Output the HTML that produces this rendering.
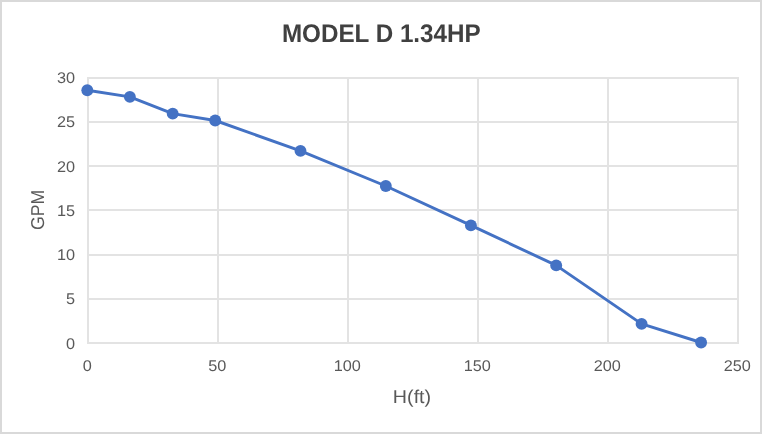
<!DOCTYPE html>
<html>
<head>
<meta charset="utf-8">
<title>MODEL D 1.34HP</title>
<style>
html,body{margin:0;padding:0;background:#fff;}
body{width:762px;height:434px;overflow:hidden;}
svg{display:block;}
text{text-rendering:geometricPrecision;font-family:"Liberation Sans",sans-serif;fill:#595959;}
.tick{font-size:15.5px;}
.axt{font-size:18.6px;}
.ttl{font-size:25.6px;font-weight:bold;fill:#404040;}
.g{stroke:#e3e3e3;stroke-width:2;fill:none;shape-rendering:crispEdges;}
</style>
</head>
<body>
<svg width="762" height="434" viewBox="0 0 762 434">
<rect x="0" y="0" width="762" height="434" fill="#ffffff"/>
<rect x="1" y="1" width="760" height="432" fill="none" stroke="#d9d9d9" stroke-width="2"/>
<!-- horizontal gridlines -->
<g class="g">
<line x1="87" y1="78" x2="739" y2="78"/>
<line x1="87" y1="122" x2="739" y2="122"/>
<line x1="87" y1="166" x2="739" y2="166"/>
<line x1="87" y1="210" x2="739" y2="210"/>
<line x1="87" y1="255" x2="739" y2="255"/>
<line x1="87" y1="299" x2="739" y2="299"/>
<line x1="87" y1="343" x2="739" y2="343"/>
<!-- vertical gridlines -->
<line x1="88" y1="77" x2="88" y2="344"/>
<line x1="218" y1="77" x2="218" y2="344"/>
<line x1="348" y1="77" x2="348" y2="344"/>
<line x1="478" y1="77" x2="478" y2="344"/>
<line x1="608" y1="77" x2="608" y2="344"/>
<line x1="738" y1="77" x2="738" y2="344"/>
</g>
<!-- series -->
<polyline fill="none" stroke="#4472c4" stroke-width="2.95" stroke-linejoin="round" stroke-linecap="round"
 points="87.3,90.2 129.9,96.9 172.7,113.6 215.2,120.5 300.5,150.9 385.8,186 470.9,225.4 556.2,265.4 641.6,323.9 701.1,342.5"/>
<g fill="#4472c4">
<circle cx="87.3" cy="90.2" r="5.95"/>
<circle cx="129.9" cy="96.9" r="5.95"/>
<circle cx="172.7" cy="113.6" r="5.95"/>
<circle cx="215.2" cy="120.5" r="5.95"/>
<circle cx="300.5" cy="150.9" r="5.95"/>
<circle cx="385.8" cy="186" r="5.95"/>
<circle cx="470.9" cy="225.4" r="5.95"/>
<circle cx="556.2" cy="265.4" r="5.95"/>
<circle cx="641.6" cy="323.9" r="5.95"/>
<circle cx="701.1" cy="342.5" r="5.95"/>
</g>
<!-- title -->
<text class="ttl" text-anchor="middle" transform="translate(381.3,41.6) scale(0.9465,1)">MODEL D 1.34HP</text>
<!-- y tick labels -->
<g class="tick" text-anchor="end">
<text transform="translate(75,82.9) scale(1.05,1)">30</text>
<text transform="translate(75,126.9) scale(1.05,1)">25</text>
<text transform="translate(75,171.9) scale(1.05,1)">20</text>
<text transform="translate(75,215.9) scale(1.05,1)">15</text>
<text transform="translate(75,259.9) scale(1.05,1)">10</text>
<text transform="translate(75,303.9) scale(1.05,1)">5</text>
<text transform="translate(75,348.9) scale(1.05,1)">0</text>
</g>
<!-- x tick labels -->
<g class="tick" text-anchor="middle">
<text transform="translate(87.3,371) scale(1.05,1)">0</text>
<text transform="translate(217.3,371) scale(1.05,1)">50</text>
<text transform="translate(347.3,371) scale(1.05,1)">100</text>
<text transform="translate(477.3,371) scale(1.05,1)">150</text>
<text transform="translate(607.3,371) scale(1.05,1)">200</text>
<text transform="translate(737.3,371) scale(1.05,1)">250</text>
</g>
<!-- axis titles -->
<text class="axt" text-anchor="middle" transform="translate(412,403) scale(1.06,1)">H(ft)</text>
<text class="axt" text-anchor="middle" transform="translate(44.2,209.8) rotate(-90) scale(0.95,1)">GPM</text>
</svg>
</body>
</html>
